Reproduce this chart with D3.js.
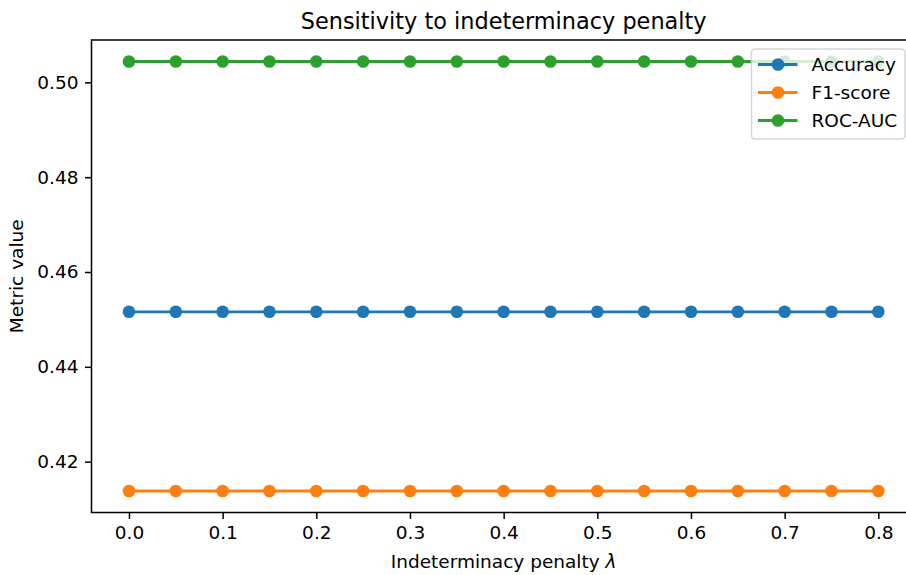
<!DOCTYPE html>
<meta charset="utf-8">
<style>
body { margin: 0; background: #fff; }
svg { display: block; font-family: "DejaVu Sans", sans-serif; }
.axis path, .axis line { stroke: #000; stroke-width: 1.5px; }
.axis text { font-size: 18.5px; fill: #000; font-family: "DejaVu Sans", sans-serif; }
.title { font-size: 22.4px; }
.label { font-size: 18.5px; }
.legend text { font-size: 18.5px; }
</style>
<body>
<script src="https://cdn.jsdelivr.net/npm/d3@7"></script>
<script>

var lambdas = [0.0, 0.05, 0.1, 0.15, 0.2, 0.25, 0.3, 0.35, 0.4, 0.45, 0.5, 0.55, 0.6, 0.65, 0.7, 0.75, 0.8];
var accuracy = [0.4516, 0.4516, 0.4516, 0.4516, 0.4516, 0.4516, 0.4516, 0.4516, 0.4516, 0.4516, 0.4516, 0.4516, 0.4516, 0.4516, 0.4516, 0.4516, 0.4516];
var f1score = [0.4138, 0.4138, 0.4138, 0.4138, 0.4138, 0.4138, 0.4138, 0.4138, 0.4138, 0.4138, 0.4138, 0.4138, 0.4138, 0.4138, 0.4138, 0.4138, 0.4138];
var rocauc = [0.5044, 0.5044, 0.5044, 0.5044, 0.5044, 0.5044, 0.5044, 0.5044, 0.5044, 0.5044, 0.5044, 0.5044, 0.5044, 0.5044, 0.5044, 0.5044, 0.5044];
var seriesNames = ["Accuracy", "F1-score", "ROC-AUC"];
var colors = ["#1f77b4", "#ff7f0e", "#2ca02c"];
var xTicks = [0.0, 0.1, 0.2, 0.3, 0.4, 0.5, 0.6, 0.7, 0.8];
var yTicks = [0.42, 0.44, 0.46, 0.48, 0.50];

var series = [accuracy, f1score, rocauc].map(function(vals, i) {
  return { name: seriesNames[i], color: colors[i], values: vals.map(function(v, j) { return { x: lambdas[j], y: v }; }) };
});

var W = 906, H = 575;
var margin = {top: 40, left: 91.5},
    width = 824.3,
    height = 472.5;

var svg = d3.select("body").append("svg")
    .attr("width", W)
    .attr("height", H);

// matplotlib-like 5% padding
var xExt = d3.extent(lambdas), xPad = (xExt[1] - xExt[0]) * 0.05;
var allY = accuracy.concat(f1score, rocauc);
var yExt = d3.extent(allY), yPad = (yExt[1] - yExt[0]) * 0.05;

var x = d3.scaleLinear().domain([xExt[0] - xPad, xExt[1] + xPad]).range([0, width]);
var y = d3.scaleLinear().domain([yExt[0] - yPad, yExt[1] + yPad]).range([height, 0]);

var g = svg.append("g")
    .attr("transform", "translate(" + margin.left + "," + margin.top + ")");

var line = d3.line()
    .x(function(d) { return x(d.x); })
    .y(function(d) { return y(d.y); });

var s = g.selectAll(".series")
    .data(series)
  .enter().append("g")
    .attr("class", "series");

s.append("path")
    .attr("d", function(d) { return line(d.values); })
    .attr("fill", "none")
    .attr("stroke", function(d) { return d.color; })
    .attr("stroke-width", 2.8);

s.selectAll("circle")
    .data(function(d) { return d.values.map(function(v) { return {x: v.x, y: v.y, c: d.color}; }); })
  .enter().append("circle")
    .attr("cx", function(d) { return x(d.x); })
    .attr("cy", function(d) { return y(d.y); })
    .attr("r", 6.3)
    .attr("fill", function(d) { return d.c; });

// axes
var xAxis = g.append("g")
    .attr("class", "axis")
    .attr("transform", "translate(0," + height + ")")
    .call(d3.axisBottom(x).tickValues(xTicks).tickFormat(d3.format(".1f")).tickSize(6.5).tickPadding(6.5).tickSizeOuter(0));
xAxis.select(".domain").remove();

var yAxis = g.append("g")
    .attr("class", "axis")
    .call(d3.axisLeft(y).tickValues(yTicks).tickFormat(d3.format(".2f")).tickSize(6.5).tickPadding(6.5).tickSizeOuter(0));
yAxis.select(".domain").remove();

// spines
g.append("rect")
    .attr("width", width)
    .attr("height", height)
    .attr("fill", "none")
    .attr("stroke", "#000")
    .attr("stroke-width", 1.5);

// title and labels
svg.append("text")
    .attr("class", "title")
    .attr("x", margin.left + width / 2)
    .attr("y", 29)
    .attr("text-anchor", "middle")
    .text("Sensitivity to indeterminacy penalty");

var xl = svg.append("text")
    .attr("class", "label")
    .attr("x", margin.left + width / 2)
    .attr("y", 567.5)
    .attr("text-anchor", "middle");
xl.append("tspan").text("Indeterminacy penalty ");
xl.append("tspan").attr("font-style", "italic").text("\u03bb");

svg.append("text")
    .attr("class", "label")
    .attr("transform", "translate(23," + (margin.top + height / 2) + ") rotate(-90)")
    .attr("text-anchor", "middle")
    .text("Metric value");

// legend
var lg = svg.append("g")
    .attr("class", "legend")
    .attr("transform", "translate(751.5,49)");

lg.append("rect")
    .attr("width", 153.5)
    .attr("height", 90)
    .attr("rx", 3.5)
    .attr("fill", "#fff")
    .attr("fill-opacity", 0.8)
    .attr("stroke", "#ccc")
    .attr("stroke-opacity", 0.8)
    .attr("stroke-width", 1.5);

var item = lg.selectAll(".item")
    .data(series)
  .enter().append("g")
    .attr("transform", function(d, i) { return "translate(0," + (15.5 + i * 28) + ")"; });

item.append("line")
    .attr("x1", 6.5).attr("x2", 46)
    .attr("stroke", function(d) { return d.color; })
    .attr("stroke-width", 2.8);

item.append("circle")
    .attr("cx", 26.5)
    .attr("r", 6.3)
    .attr("fill", function(d) { return d.color; });

item.append("text")
    .attr("x", 60)
    .attr("dy", "0.35em")
    .text(function(d) { return d.name; });

</script>
